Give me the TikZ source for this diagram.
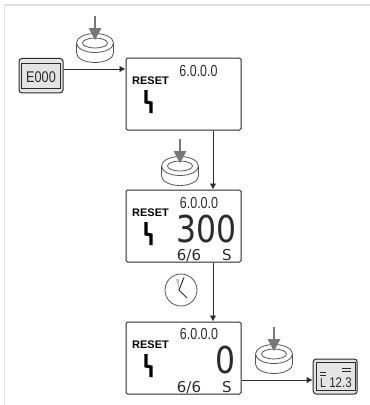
\documentclass[tikz,border=0pt]{standalone}
\usepackage{fontspec}
\setmainfont{DejaVu Sans}
\newfontfamily\lcdsans{Liberation Sans}
\usetikzlibrary{arrows.meta}
\definecolor{ink}{HTML}{2B2B2B}
\definecolor{frameline}{HTML}{E0E0E0}
\definecolor{btn}{HTML}{555555}
\definecolor{press}{HTML}{777777}
\definecolor{panel}{HTML}{E4E4E4}
\tikzset{
  lcdbox/.style={draw=ink,line width=1pt,rounded corners=1.5pt,fill=white,minimum width=115pt,minimum height=72pt,inner sep=0pt},
  minibox/.style={draw=ink,line width=1pt,rounded corners=3pt,fill=panel,inner sep=0pt},
  miniin/.style={draw=ink,line width=0.9pt,fill=panel,inner sep=0pt},
  flow/.style={draw=ink,line width=0.9pt,-{Latex[length=6pt,width=6.5pt]}},
  resettext/.style={inner sep=0pt,font=\fontsize{11}{11}\bfseries\lcdsans,text=black},
  verstext/.style={inner sep=0pt,font=\fontsize{16}{16}\lcdsans,text=ink,xscale=.78},
  unittext/.style={inner sep=0pt,font=\fontsize{15}{15}\selectfont,text=ink},
  bigtext/.style={inner sep=0pt,font=\fontsize{37}{37}\selectfont,text=ink,xscale=.85},
  minitext/.style={inner sep=0pt,font=\fontsize{15.5}{15}\lcdsans,text=ink,xscale=.82},
  bolt/.style={draw=black,line width=3.2pt,line join=miter},
  bar/.style={draw=ink,line width=0.9pt},
  pushbtn/.pic={
    \draw[btn,line width=.8pt,fill=white] (-18.5,0) -- (-18.5,10) arc[start angle=180,end angle=0,x radius=18.5,y radius=9.5] -- (18.5,0);
    \draw[btn,line width=.8pt,fill=white] (0,0) ellipse[x radius=18.5,y radius=9.5];
    \draw[btn,line width=.8pt] (0,0) ellipse[x radius=12.5,y radius=5];
    \draw[press,line width=2pt] (0,-27) -- (0,-14);
    \fill[press] (-6.5,-15) -- (6.5,-15) -- (0,-3) -- cycle;
  },
}
\begin{document}
\begin{tikzpicture}[x=1pt,y=-1pt]
\useasboundingbox (0,0) rectangle (370,405);
\fill[white] (0,0) rectangle (370,405);
\draw[frameline,line width=1.5pt] (4.7,405) -- (4.7,5) -- (370,5);

\node[lcdbox] (b1) at (183.5,94) {};
\node[lcdbox] (b2) at (183.5,226) {};
\node[lcdbox] (b3) at (183.5,358) {};
\node[minibox,minimum width=44pt,minimum height=34.5pt] (e) at (41,75.7) {};
\node[miniin,minimum width=39pt,minimum height=25pt] (ei) at (41.3,75.7) {};
\node[minitext] (et) at (41,77.5) {E000};
\node[minibox,minimum width=44pt,minimum height=35pt] (l) at (335.2,376.5) {};
\node[miniin,minimum width=39pt,minimum height=28pt] (li) at (335.5,376) {};
\node[minitext,font=\fontsize{14}{14}\lcdsans,anchor=base] (lt) at (340.5,387) {12.3};
\node[minitext,font=\fontsize{13}{13}\lcdsans,anchor=base west] (ll) at (320,387) {L};
\draw[bar] (320,372) -- (326,372) (320,375) -- (326,375);
\draw[bar] (342,368) -- (351,368) (342,371) -- (351,371);

\foreach \n/\y in {b1/0,b2/132,b3/264}{
  \node[resettext,anchor=west] (r\n) at (132,{81+\y}) {RESET};
  \draw[bolt] ([shift={(14,9)}]r\n.west) -- ++(0,12) -- ++(5,1) -- ++(0,10);
}
\node[verstext,anchor=base] (v1) at (198.5,76) {6.0.0.0};
\node[verstext,anchor=base] (v2) at (199,208) {6.0.0.0};
\node[verstext,anchor=base] (v3) at (199,339) {6.0.0.0};
\node[bigtext,anchor=base] (n2) at (207,242) {300};
\node[bigtext,anchor=base] (n3) at (226,373) {0};
\node[unittext,anchor=base] (f2) at (189,260) {6/6};
\node[unittext,anchor=base] (s2) at (227,260) {S};
\node[unittext,anchor=base] (f3) at (189,392) {6/6};
\node[unittext,anchor=base] (s3) at (227,392) {S};

\path[flow] ([yshift=6.7pt]e.east) -- ([yshift=6.7pt]e.east -| b1.west);
\path[flow] ([xshift=29.5pt]b1.south) -- ([xshift=29.5pt]b2.north);
\path[flow] ([xshift=29.5pt]b2.south) -- ([xshift=29.5pt]b3.north);
\path[flow] ([yshift=-22pt]b3.east) -- ([yshift=-22pt]b3.east -| l.west);

\pic at (95,43) {pushbtn};
\pic at (180,166) {pushbtn};
\pic at (274,354) {pushbtn};

\node[draw=btn,line width=.8pt,circle,minimum size=32pt,inner sep=0pt,fill=white] (clk) at (181,290) {};
\fill[black!25] (176,279) -- (179,279) -- (179,290) -- cycle;
\draw[ink,line width=1pt] (184,277.5) -- (179,290) -- (187,298);
\end{tikzpicture}
\end{document}
